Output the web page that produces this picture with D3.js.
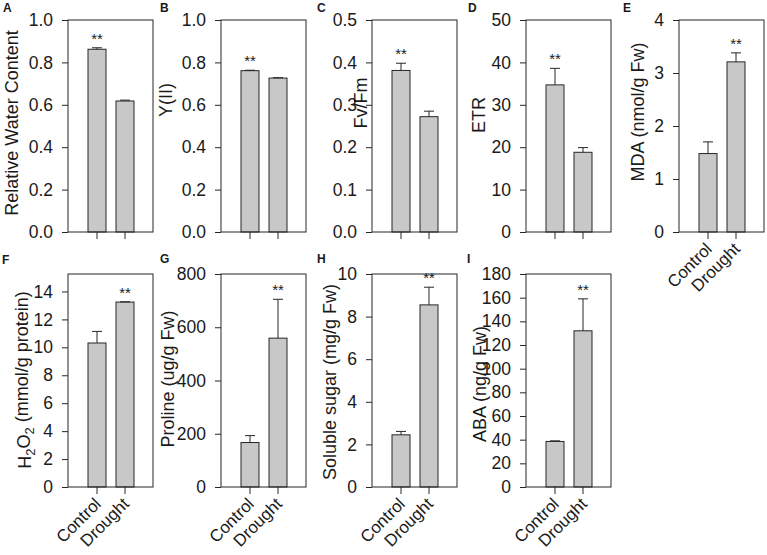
<!DOCTYPE html>
<html>
<head>
<meta charset="utf-8">
<script src="https://cdn.jsdelivr.net/npm/d3@7"></script>
<style>
  html, body { margin: 0; padding: 0; background: #fff; }
  svg { display: block; }
  text { font-family: "Liberation Sans", Arial, sans-serif; fill: #1a1a1a; }
</style>
</head>
<body>
<svg id="chart" width="767" height="555"></svg>
<script>
// ---------------- DATA ----------------
const categories = ["Control", "Drought"];
const panelLetters = ["A", "B", "C", "D", "E", "F", "G", "H", "I"];
const yTitles = [
  "Relative Water Content", "Y(II)", "Fv/Fm", "ETR", "MDA (nmol/g Fw)",
  "H2O2 (mmol/g protein)", "Proline (ug/g Fw)", "Soluble sugar (mg/g Fw)", "ABA (ng/g Fw)"
];
const meanValues = [
  [0.862, 0.618],
  [0.761, 0.726],
  [0.381, 0.272],
  [34.7, 18.8],
  [1.48, 3.21],
  [10.31, 13.24],
  [167, 559],
  [2.45, 8.55],
  [38.5, 132]
];
const errorValues = [
  [0.007, 0.004],
  [0.002, 0.002],
  [0.017, 0.013],
  [3.9, 1.1],
  [0.22, 0.17],
  [0.83, 0.02],
  [26, 146],
  [0.16, 0.83],
  [0.5, 27]
];
const significant = [
  ["**", ""], ["**", ""], ["**", ""], ["**", ""], ["", "**"],
  ["", "**"], ["", "**"], ["", "**"], ["", "**"]
];
const yMax = [1, 1, 0.5, 50, 4, 15.25, 800, 10, 180];
const tickStep = [0.2, 0.2, 0.1, 10, 1, 2, 200, 2, 20];
const tickTop = [1, 1, 0.5, 50, 4, 14, 800, 10, 180];
const tickDecimals = [1, 1, 1, 0, 0, 0, 0, 0, 0];

// ---------------- LAYOUT ----------------
const frameLeft = [68, 221, 372, 526, 679, 68, 221, 372, 526];
const frameW = 85;
const rowTop = [20, 20, 20, 20, 20, 274, 274, 274, 274];
const rowBottom = [232, 232, 232, 232, 232, 487, 487, 487, 487];
const showXLabels = [false, false, false, false, true, true, true, true, true];
const titleX = [12, 166, 361, 479, 638, 25, 168, 330, 480];
const titleY = [123, 100, 103, 115, 112, 380, 379, 382, 384];
const letterX = [3, 160, 317, 468, 623, 2, 160, 317, 467];
const letterY = [12, 12, 12, 12, 12, 264, 263, 263, 263];

const svg = d3.select("#chart");
const barW = 18;
const ink = "#262626";

panelLetters.forEach((letter, i) => {
  const left = frameLeft[i], right = left + frameW;
  const top = rowTop[i], bottom = rowBottom[i];
  const g = svg.append("g");

  const x = d3.scaleBand().domain(categories).range([left + 15, left + 71]).padding(0);
  const y = d3.scaleLinear().domain([0, yMax[i]]).range([bottom, top]);

  // ticks
  const ticks = d3.range(0, tickTop[i] + tickStep[i] / 2, tickStep[i]);
  const yAxis = d3.axisLeft(y).tickValues(ticks).tickSize(6).tickPadding(9)
    .tickFormat(d => d.toFixed(tickDecimals[i]));
  const ya = g.append("g").attr("transform", `translate(${left},0)`).call(yAxis);
  ya.select(".domain").remove();
  ya.selectAll("line").attr("stroke", ink);
  ya.selectAll("text").style("font-size", "17.5px").style("font-family", "Liberation Sans, Arial, sans-serif").attr("fill", "#1a1a1a");

  const xAxis = d3.axisBottom(x).tickSize(7).tickPadding(3);
  const xa = g.append("g").attr("transform", `translate(0,${bottom})`).call(xAxis);
  xa.select(".domain").remove();
  xa.selectAll("line").attr("stroke", ink);
  if (showXLabels[i]) {
    xa.selectAll("text")
      .style("font-size", "17px").style("font-family", "Liberation Sans, Arial, sans-serif")
      .attr("fill", "#1a1a1a")
      .attr("text-anchor", "end")
      .attr("dy", null).attr("y", null)
      .attr("transform", "translate(5,18) rotate(-45)");
  } else {
    xa.selectAll("text").remove();
  }

  // bars
  const data = categories.map((c, k) => ({ c, v: meanValues[i][k], e: errorValues[i][k], s: significant[i][k] }));
  g.selectAll("rect.bar").data(data).enter().append("rect")
    .attr("class", "bar")
    .attr("x", d => x(d.c) + (x.bandwidth() - barW) / 2)
    .attr("width", barW)
    .attr("y", d => y(d.v))
    .attr("height", d => y(0) - y(d.v))
    .attr("fill", "#c8c8c8")
    .attr("stroke", ink)
    .attr("stroke-width", 1);

  // error bars
  const cx = d => x(d.c) + x.bandwidth() / 2;
  g.selectAll("line.err").data(data).enter().append("line")
    .attr("x1", cx).attr("x2", cx)
    .attr("y1", d => y(d.v)).attr("y2", d => y(d.v + d.e))
    .attr("stroke", ink).attr("stroke-width", 1);
  g.selectAll("line.cap").data(data).enter().append("line")
    .attr("x1", d => cx(d) - 5).attr("x2", d => cx(d) + 5)
    .attr("y1", d => y(d.v + d.e)).attr("y2", d => y(d.v + d.e))
    .attr("stroke", ink).attr("stroke-width", 1);

  // significance
  g.selectAll("text.sig").data(data.filter(d => d.s)).enter().append("text")
    .attr("x", cx)
    .attr("y", d => y(d.v + d.e) - 4)
    .attr("text-anchor", "middle")
    .style("font-size", "15px")
    .text(d => d.s);

  // frame
  g.append("rect")
    .attr("x", left).attr("y", top)
    .attr("width", right - left).attr("height", bottom - top)
    .attr("fill", "none").attr("stroke", ink).attr("stroke-width", 1);

  // y title
  const t = g.append("text")
    .attr("transform", `translate(${titleX[i]},${titleY[i]}) rotate(-90)`)
    .attr("text-anchor", "middle")
    .attr("dy", "0.36em")
    .style("font-size", "18px");
  if (yTitles[i].startsWith("H2O2")) {
    t.append("tspan").text("H");
    t.append("tspan").attr("dy", "0.3em").style("font-size", "13px").text("2");
    t.append("tspan").attr("dy", "-0.3em").text("O");
    t.append("tspan").attr("dy", "0.3em").style("font-size", "13px").text("2");
    t.append("tspan").attr("dy", "-0.3em").text(" (mmol/g protein)");
  } else {
    t.text(yTitles[i]);
  }

  // panel letter
  g.append("text")
    .attr("x", letterX[i]).attr("y", letterY[i])
    .style("font-size", "12px").style("font-weight", "bold")
    .text(letter);
});
</script>
</body>
</html>
